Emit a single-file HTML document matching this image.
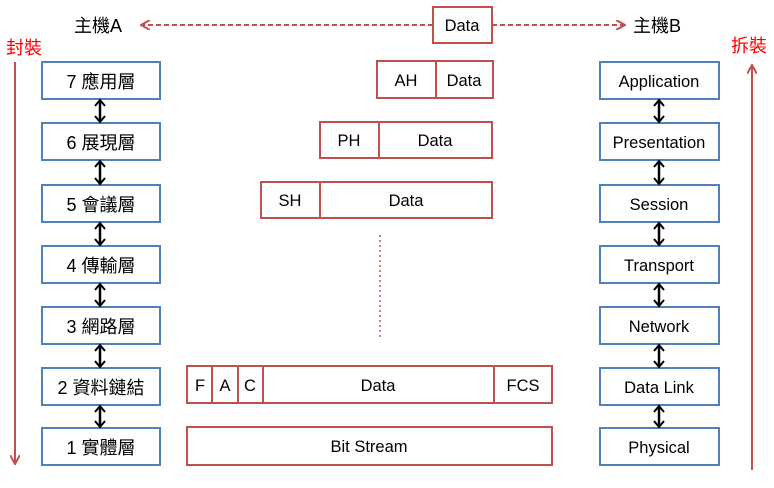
<!DOCTYPE html>
<html><head><meta charset="utf-8"><style>
html,body{margin:0;padding:0;background:#fff;}
svg text{font-family:"Liberation Sans","Noto Sans CJK TC",sans-serif;font-size:16.5px;fill:#000;}
</style></head><body>
<svg width="774" height="483" viewBox="0 0 774 483" xmlns="http://www.w3.org/2000/svg">
<defs>
<marker id="ah" markerWidth="10" markerHeight="10" refX="8" refY="5" orient="auto" markerUnits="userSpaceOnUse"><path d="M0,0 L9,5 L0,10" fill="none" stroke="#c0504d" stroke-width="2"/></marker>
</defs>
<line x1="433" y1="25" x2="142" y2="25" stroke="#c0504d" stroke-width="2" stroke-dasharray="5,3" marker-end="url(#ah)"/>
<line x1="492" y1="25" x2="624" y2="25" stroke="#c0504d" stroke-width="2" stroke-dasharray="5,3" marker-end="url(#ah)"/>
<text x="74" y="32" style="font-size:18px">主機A</text>
<text x="633" y="32" style="font-size:18px">主機B</text>
<text x="6" y="54" style="fill:#f00;font-size:18px">封裝</text>
<text x="731" y="52" style="fill:#f00;font-size:18px">拆裝</text>
<line x1="15" y1="62" x2="15" y2="463" stroke="#c0504d" stroke-width="2" marker-end="url(#ah)"/>
<line x1="752" y1="470" x2="752" y2="66" stroke="#c0504d" stroke-width="2" marker-end="url(#ah)"/>
<g fill="none" stroke="#4f81bd" stroke-width="2">
<rect x="42" y="62" width="118" height="37"/><rect x="42" y="123" width="118" height="37"/><rect x="42" y="185" width="118" height="37"/><rect x="42" y="246" width="118" height="37"/><rect x="42" y="307" width="118" height="37"/><rect x="42" y="368" width="118" height="37"/><rect x="42" y="428" width="118" height="37"/>
<rect x="600" y="62" width="119" height="37"/><rect x="600" y="123" width="119" height="37"/><rect x="600" y="185" width="119" height="37"/><rect x="600" y="246" width="119" height="37"/><rect x="600" y="307" width="119" height="37"/><rect x="600" y="368" width="119" height="37"/><rect x="600" y="428" width="119" height="37"/>
</g>
<g stroke="#000" stroke-width="2.5">
<line x1="100" y1="101" x2="100" y2="121"/><line x1="100" y1="162" x2="100" y2="183"/><line x1="100" y1="224" x2="100" y2="244"/><line x1="100" y1="285" x2="100" y2="305"/><line x1="100" y1="346" x2="100" y2="366"/><line x1="100" y1="407" x2="100" y2="426"/>
<line x1="659" y1="101" x2="659" y2="121"/><line x1="659" y1="162" x2="659" y2="183"/><line x1="659" y1="224" x2="659" y2="244"/><line x1="659" y1="285" x2="659" y2="305"/><line x1="659" y1="346" x2="659" y2="366"/><line x1="659" y1="407" x2="659" y2="426"/>
</g>
<g fill="none" stroke="#000" stroke-width="2">
<path d="M95,106 L100,100 L105,106 M95,116 L100,122 L105,116"/><path d="M95,167 L100,161 L105,167 M95,178 L100,184 L105,178"/><path d="M95,229 L100,223 L105,229 M95,239 L100,245 L105,239"/><path d="M95,290 L100,284 L105,290 M95,300 L100,306 L105,300"/><path d="M95,351 L100,345 L105,351 M95,361 L100,367 L105,361"/><path d="M95,412 L100,406 L105,412 M95,421 L100,427 L105,421"/>
<path d="M654,106 L659,100 L664,106 M654,116 L659,122 L664,116"/><path d="M654,167 L659,161 L664,167 M654,178 L659,184 L664,178"/><path d="M654,229 L659,223 L664,229 M654,239 L659,245 L664,239"/><path d="M654,290 L659,284 L664,290 M654,300 L659,306 L664,300"/><path d="M654,351 L659,345 L664,351 M654,361 L659,367 L664,361"/><path d="M654,412 L659,406 L664,412 M654,421 L659,427 L664,421"/>
</g>
<g text-anchor="middle" style="font-size:18px">
<text x="101" y="88" style="font-size:18px">7 應用層</text><text x="101" y="149" style="font-size:18px">6 展現層</text><text x="101" y="211" style="font-size:18px">5 會議層</text><text x="101" y="272" style="font-size:18px">4 傳輸層</text><text x="101" y="333" style="font-size:18px">3 網路層</text><text x="101" y="394" style="font-size:18px">2 資料鏈結</text><text x="101" y="454" style="font-size:18px">1 實體層</text>
</g>
<g text-anchor="middle">
<text x="659" y="87">Application</text><text x="659" y="148">Presentation</text><text x="659" y="210">Session</text><text x="659" y="271">Transport</text><text x="659" y="332">Network</text><text x="659" y="393">Data Link</text><text x="659" y="453">Physical</text>
</g>
<g fill="none" stroke="#c0504d" stroke-width="2">
<rect x="433" y="7" width="59" height="36"/>
<rect x="377" y="61" width="116" height="37"/><line x1="436" y1="61" x2="436" y2="98"/>
<rect x="320" y="122" width="172" height="36"/><line x1="379" y1="122" x2="379" y2="158"/>
<rect x="261" y="182" width="231" height="36"/><line x1="320" y1="182" x2="320" y2="218"/>
<line x1="380" y1="235" x2="380" y2="338" stroke-width="1.5" stroke-dasharray="2,3"/>
<rect x="187" y="366" width="365" height="37"/><line x1="212" y1="366" x2="212" y2="403"/><line x1="238" y1="366" x2="238" y2="403"/><line x1="263" y1="366" x2="263" y2="403"/><line x1="494" y1="366" x2="494" y2="403"/>
<rect x="187" y="427" width="365" height="38"/>
</g>
<g text-anchor="middle">
<text x="462" y="31">Data</text>
<text x="406" y="86">AH</text><text x="464" y="86">Data</text>
<text x="349" y="146">PH</text><text x="435" y="146">Data</text>
<text x="290" y="206">SH</text><text x="406" y="206">Data</text>
<text x="200" y="391">F</text><text x="225" y="391">A</text><text x="250" y="391">C</text><text x="378" y="391">Data</text><text x="523" y="391">FCS</text>
<text x="369" y="452">Bit Stream</text>
</g>
</svg>
</body></html>
